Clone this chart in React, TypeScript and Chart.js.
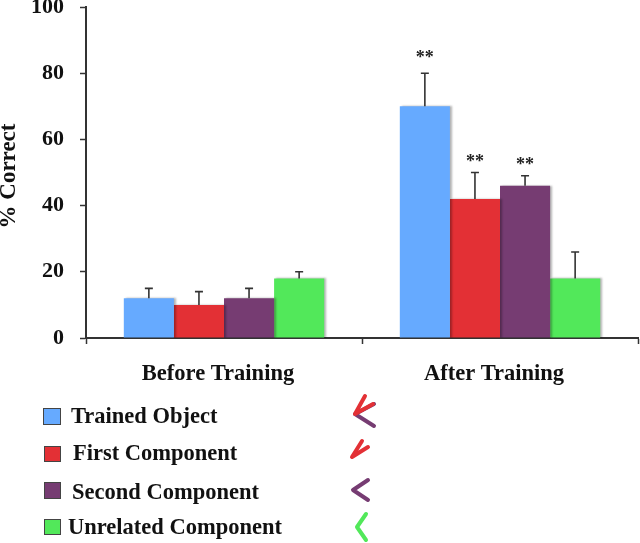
import React, { useEffect, useRef } from "react";
import { Chart, registerables } from "chart.js";

Chart.register(...registerables);

const categories = ["Before Training", "After Training"];
const seriesNames = ["Trained Object", "First Component", "Second Component", "Unrelated Component"];
const trained = [12, 70];
const firstComp = [10, 42];
const secondComp = [12, 46];
const unrelated = [18, 18];
const trainedTop = [15, 80];
const firstTop = [14, 50];
const secondTop = [15, 49];
const unrelatedTop = [20, 26];
const starLevels = [
  [null, 85.5],
  [null, 54],
  [null, 53],
  [null, null],
];
const colors = ["#66AAFF", "#E33035", "#763C72", "#52E85A"];
const yTicks = [0, 20, 40, 60, 80, 100];
const yTitle = "% Correct";

const SERIF = "'Liberation Serif', serif";
const INK = "#333333";

const legendRows = [
  { box: [43, 408, 18, 17], tx: 71, ty: 417 },
  { box: [44, 446, 17, 16], tx: 73, ty: 454 },
  { box: [44, 482, 17, 17], tx: 72, ty: 493 },
  { box: [44, 519, 17, 16], tx: 68, ty: 528 },
];
const chevrons: { c: number; p: number[][] }[] = [
  { c: 2, p: [[374, 404], [355, 414], [374, 426]] },
  { c: 1, p: [[365, 396], [355, 414], [373, 404]] },
  { c: 1, p: [[362, 441], [352, 457], [368, 447]] },
  { c: 2, p: [[368, 480], [353, 490], [368, 500]] },
  { c: 3, p: [[366, 514], [357, 527], [366, 540]] },
];

const tops = [trainedTop, firstTop, secondTop, unrelatedTop];

const shadowPlugin = {
  id: "barShadow",
  beforeDatasetsDraw(chart: any) {
    const c = chart.ctx;
    c.save();
    c.shadowColor = "rgba(0,0,0,0.3)";
    c.shadowOffsetX = 2;
    c.shadowBlur = 2;
  },
  afterDatasetsDraw(chart: any) {
    chart.ctx.restore();
  },
};

const annotationPlugin = {
  id: "annotations",
  afterDraw(chart: any) {
    const c = chart.ctx;
    const y = chart.scales.y;
    c.save();
    c.save();
    c.translate(9, 176);
    c.rotate(-Math.PI / 2);
    c.fillStyle = "#111";
    c.font = `bold 23px ${SERIF}`;
    c.textAlign = "center";
    c.textBaseline = "middle";
    c.fillText(yTitle, 0, 0);
    c.restore();
    tops.forEach((vals, di) => {
      const meta = chart.getDatasetMeta(di);
      vals.forEach((v, i) => {
        const bar = meta.data[i];
        const yt = y.getPixelForValue(v);
        c.strokeStyle = INK;
        c.lineWidth = 1.6;
        c.beginPath();
        c.moveTo(bar.x, bar.y);
        c.lineTo(bar.x, yt);
        c.moveTo(bar.x - 4, yt);
        c.lineTo(bar.x + 4, yt);
        c.stroke();
        const s = starLevels[di][i];
        if (s != null) {
          c.fillStyle = "#222";
          c.font = `bold 18px ${SERIF}`;
          c.textAlign = "center";
          c.textBaseline = "middle";
          c.fillText("**", bar.x, y.getPixelForValue(s) + 3);
        }
      });
    });
    seriesNames.forEach((name, i) => {
      const r = legendRows[i];
      c.fillStyle = colors[i];
      c.strokeStyle = "#444";
      c.lineWidth = 1;
      c.fillRect(r.box[0], r.box[1], r.box[2], r.box[3]);
      c.strokeRect(r.box[0] + 0.5, r.box[1] + 0.5, r.box[2] - 1, r.box[3] - 1);
      c.fillStyle = "#111";
      c.font = `bold 22.5px ${SERIF}`;
      c.textAlign = "left";
      c.textBaseline = "middle";
      c.fillText(name, r.tx, r.ty);
    });
    c.lineWidth = 4;
    c.lineCap = "round";
    c.lineJoin = "round";
    chevrons.forEach((ch) => {
      c.strokeStyle = colors[ch.c];
      c.beginPath();
      ch.p.forEach(([px, py], k) => (k ? c.lineTo(px, py) : c.moveTo(px, py)));
      c.stroke();
    });
    c.restore();
  },
};

export default function App() {
  const ref = useRef<HTMLCanvasElement>(null);
  useEffect(() => {
    document.body.style.margin = "0";
    const data = [trained, firstComp, secondComp, unrelated];
    const chart = new Chart(ref.current!, {
      type: "bar",
      data: {
        labels: categories,
        datasets: seriesNames.map((label, i) => ({
          label,
          data: data[i],
          backgroundColor: colors[i],
          borderWidth: 0,
          categoryPercentage: 0.726,
          barPercentage: 1,
        })),
      },
      options: {
        responsive: false,
        animation: false,
        layout: { padding: { top: 7, right: 2, left: 0, bottom: 0 } },
        plugins: { legend: { display: false }, tooltip: { enabled: false } },
        scales: {
          x: {
            offset: true,
            border: { color: INK, width: 2 },
            grid: { drawOnChartArea: false, offset: true, tickLength: 6, tickColor: INK, tickWidth: 1.5 },
            ticks: {
              color: "#111",
              font: { family: SERIF, size: 22.5, weight: "bold" },
              padding: 17,
              maxRotation: 0,
              labelOffset: -6,
            },
            afterFit(s: any) {
              s.height = 205;
              s.paddingLeft = 0;
              s.paddingRight = 0;
            },
          },
          y: {
            min: 0,
            max: 100,
            border: { color: INK, width: 2 },
            grid: { drawOnChartArea: false, tickLength: 6, tickColor: INK, tickWidth: 1.5 },
            afterBuildTicks(s: any) {
              s.ticks = yTicks.map((value) => ({ value }));
            },
            ticks: { color: "#111", font: { family: SERIF, size: 22, weight: "bold" }, padding: 16 },
            afterFit(s: any) {
              s.width = 86;
              s.paddingTop = 0;
              s.paddingBottom = 0;
            },
          },
        },
      },
      plugins: [shadowPlugin, annotationPlugin],
    } as any);
    return () => chart.destroy();
  }, []);
  return <canvas ref={ref} width={640} height={543} style={{ display: "block" }} />;
}
